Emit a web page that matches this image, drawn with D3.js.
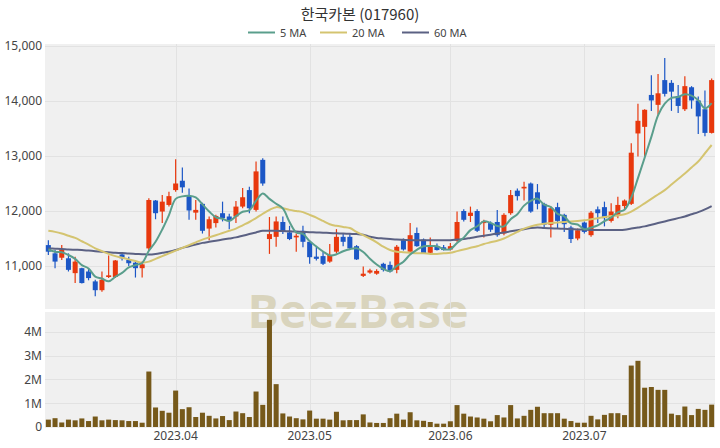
<!DOCTYPE html>
<html><head><meta charset="utf-8">
<script src="https://cdn.jsdelivr.net/npm/d3@7"></script>
<style>
body{margin:0;background:#fff;}
svg{display:block;}
text{font-family:"Noto Sans","Noto Sans CJK KR",sans-serif;}
</style>
</head><body>
<svg id="c" width="720" height="448"></svg>
<script>
const titleText = "한국카본 (017960)";
const monthTickIndex = [19, 39, 60, 80];
const monthTickLabels = ["2023.04", "2023.05", "2023.06", "2023.07"];
const priceTicks = [11000, 12000, 13000, 14000, 15000];
const volumeTicks = [0, 1e6, 2e6, 3e6, 4e6];
const volumeTickLabels = ["0", "1M", "2M", "3M", "4M"];
const legendNames = ["5 MA", "20 MA", "60 MA"];

const openP = [11380,11230,11150,11140,10870,10960,10900,10720,10560,10800,
  10800,11210,11110,11060,10960,11320,12190,11990,12110,12380,
  12550,12270,11970,12130,11680,11780,11960,11900,11900,12080,
  12380,12020,12930,11490,11530,11800,11610,11520,11640,11440,
  11170,11180,11080,11260,11530,11530,11360,10820,10880,10860,
  11040,11020,10930,11470,11260,11600,11480,11240,11360,11340,
  11300,11460,12000,11910,12000,11780,11780,11800,11590,11960,
  12370,12410,12500,12340,12130,11750,12070,11930,11700,11500,
  11790,11560,12030,12070,11820,11930,12090,12130,13410,13530,
  14110,13930,14380,14330,14090,13850,14250,14010,13850,13420];
const highP = [11470,11290,11380,11230,11170,10970,10960,10750,10900,11190,
  11110,11240,11170,11100,11080,12230,12200,12290,12350,12940,
  12790,12410,12200,12150,11900,11930,12170,11950,12180,12420,
  12440,12900,12960,11890,11900,11900,11730,11590,11730,11470,
  11360,11260,11400,11670,11600,11590,11380,10990,10950,10940,
  11060,11080,11380,11500,11780,11700,11500,11520,11410,11380,
  11420,11990,12030,12080,12030,11840,11810,12020,11960,12380,
  12410,12530,12520,12490,12150,12080,12150,11950,11730,11680,
  11810,12000,12080,12170,12140,12260,12210,13230,13950,13850,
  14470,14490,14780,14380,14290,14450,14270,14080,14190,14410];
const lowP = [11200,10960,11110,10900,10690,10680,10740,10450,10530,10780,
  10780,11100,11000,10790,10790,11290,11850,11780,12080,12350,
  12330,11840,11840,11590,11470,11700,11810,11670,11780,12050,
  11960,11990,12460,11220,11350,11580,11470,11260,11340,11040,
  11100,11020,11060,11230,11360,11290,11110,10800,10860,10840,
  10900,10880,10870,11280,11240,11350,11220,11230,11280,11280,
  11280,11440,11810,11800,11620,11520,11620,11530,11560,11930,
  12190,12190,11970,12030,11710,11520,11690,11620,11420,11470,
  11590,11530,11780,11720,11790,11870,12030,12110,12990,13000,
  13820,13750,14080,13820,13780,13820,13860,13400,13360,13410];
const closeP = [11260,11080,11300,10930,11080,10690,10780,10560,10750,10830,
  11100,11140,11050,10960,11030,12200,11960,12170,12270,12500,
  12430,12010,12020,11640,11850,11910,11870,11820,12080,12250,
  12050,12720,12500,11580,11810,11620,11490,11550,11440,11160,
  11130,11040,11200,11530,11440,11320,11120,10860,10920,10910,
  10930,10900,11350,11300,11560,11360,11230,11360,11290,11290,
  11360,11800,11840,11970,11640,11810,11660,11560,11930,12290,
  12270,12440,11990,12130,11750,12050,11820,11760,11490,11650,
  11620,11970,11960,11870,11990,12110,12190,13060,13640,13840,
  14010,14140,14130,14170,13910,14270,14010,13720,13420,14380];
const volume = [310000,370000,190000,310000,280000,360000,250000,440000,280000,310000,
  290000,280000,250000,250000,180000,2330000,820000,680000,600000,1530000,
  750000,830000,420000,600000,470000,360000,460000,290000,650000,580000,
  420000,1490000,930000,4500000,1800000,570000,440000,370000,320000,690000,
  350000,350000,310000,640000,280000,290000,290000,530000,190000,170000,
  170000,370000,560000,310000,620000,280000,260000,210000,140000,140000,
  240000,920000,560000,440000,400000,350000,240000,500000,400000,920000,
  360000,470000,720000,850000,580000,580000,580000,350000,250000,180000,
  180000,470000,320000,510000,580000,580000,500000,2580000,2780000,1650000,
  1680000,1560000,1560000,560000,500000,860000,500000,760000,720000,940000];
const ma5 = [11300,11260,11250,11200,11130,11016,10956,10808,10772,10722,
  10804,10876,10974,11016,11056,11276,11440,11664,11926,12220,
  12266,12276,12246,12120,11990,11886,11858,11818,11906,11986,
  12014,12184,12320,12220,12132,12046,11800,11610,11582,11452,
  11354,11264,11194,11212,11268,11306,11322,11254,11132,11026,
  10948,10904,11002,11078,11208,11294,11360,11362,11360,11306,
  11306,11420,11516,11652,11722,11812,11784,11728,11720,11850,
  11942,12098,12184,12224,12116,12072,11948,11902,11774,11754,
  11668,11698,11738,11814,11882,11980,12024,12244,12598,12968,
  13348,13738,13952,14058,14072,14124,14098,14016,13866,13960];
const ma20 = [11640,11620,11590,11550,11510,11450,11390,11320,11270,11220,
  11180,11150,11120,11090,11060,11080,11130,11180,11230,11280,
  11330,11380,11430,11480,11520,11560,11600,11640,11680,11740,
  11800,11870,11950,12020,12070,12050,12020,12000,11980,11930,
  11880,11820,11760,11730,11710,11690,11620,11560,11500,11430,
  11350,11290,11260,11250,11240,11230,11230,11220,11220,11230,
  11240,11270,11300,11330,11360,11400,11430,11460,11500,11560,
  11620,11680,11720,11750,11770,11780,11790,11800,11810,11820,
  11830,11850,11870,11890,11910,11920,11940,11990,12060,12140,
  12220,12300,12380,12480,12580,12680,12790,12900,13050,13200];
const ma60 = [11320,11315,11310,11300,11295,11290,11280,11270,11260,11250,
  11240,11235,11225,11220,11215,11210,11220,11240,11260,11290,
  11330,11360,11390,11420,11440,11460,11480,11500,11520,11550,
  11580,11610,11640,11640,11640,11635,11630,11625,11620,11615,
  11610,11605,11600,11595,11590,11585,11580,11570,11530,11510,
  11500,11490,11480,11475,11470,11470,11470,11470,11470,11470,
  11470,11480,11490,11510,11530,11550,11570,11590,11610,11630,
  11650,11670,11690,11700,11690,11685,11680,11675,11670,11665,
  11660,11655,11655,11655,11655,11655,11660,11680,11700,11720,
  11750,11780,11810,11840,11870,11900,11940,11980,12030,12090];

const colors = {up:"#e8380d", down:"#1c57c6", vol:"#76591a", ma5:"#5a9e8c", ma20:"#d4c470", ma60:"#5b6183",
  bg:"#f0f0f0", grid:"#e2e2e2", text:"#444", wm:"#d9d4bd"};

const svg = d3.select("#c");
const L = 45, R = 715;
const priceTop = 44, priceBot = 309, volTop = 312, volBot = 428;

const n = closeP.length;
const x = d3.scaleBand().domain(d3.range(n)).range([L, R]).padding(0);
const xc = i => x(i) + x.bandwidth() / 2;
const bw = x.bandwidth() * 0.75;

const y = d3.scaleLinear().domain([10218, 15000]).range([priceBot, 46]);
const yv = d3.scaleLinear().domain([0, 4.83e6]).range([427, volTop]);

// panels
svg.append("rect").attr("x", L).attr("y", priceTop).attr("width", R - L).attr("height", priceBot - priceTop).attr("fill", colors.bg);
svg.append("rect").attr("x", L).attr("y", volTop).attr("width", R - L).attr("height", volBot - volTop).attr("fill", colors.bg);

// watermark
svg.append("text").attr("x", 358).attr("y", 328).attr("text-anchor", "middle")
  .attr("font-size", 47).attr("font-weight", "bold").attr("fill", colors.wm)
  .style("font-family", "'Open Sans','Noto Sans',sans-serif").text("BeezBase");
svg.append("rect").attr("x", L).attr("y", priceBot).attr("width", R - L).attr("height", volTop - priceBot).attr("fill", "#fff");

// grids
const g = svg.append("g");
g.selectAll(".hp").data(priceTicks).join("line").attr("x1", L).attr("x2", R)
  .attr("y1", d => Math.round(y(d)) + 0.5).attr("y2", d => Math.round(y(d)) + 0.5).attr("stroke", colors.grid);
g.selectAll(".hv").data(volumeTicks.slice(1)).join("line").attr("x1", L).attr("x2", R)
  .attr("y1", d => Math.round(yv(d)) + 0.5).attr("y2", d => Math.round(yv(d)) + 0.5).attr("stroke", colors.grid);
monthTickIndex.forEach(i => {
  const xx = Math.round(xc(i)) + 0.5;
  g.append("line").attr("x1", xx).attr("x2", xx).attr("y1", priceTop).attr("y2", priceBot).attr("stroke", colors.grid);
  g.append("line").attr("x1", xx).attr("x2", xx).attr("y1", volTop).attr("y2", volBot).attr("stroke", colors.grid);
});

// axes
const ax = svg.append("g").attr("transform", `translate(${L - 3},0)`)
  .call(d3.axisLeft(y).tickValues(priceTicks).tickFormat(d3.format(",")).tickSize(0).tickPadding(0));
const axv = svg.append("g").attr("transform", `translate(${L - 3},0)`)
  .call(d3.axisLeft(yv).tickValues(volumeTicks).tickFormat((d, i) => volumeTickLabels[i]).tickSize(0).tickPadding(0));
const axx = svg.append("g").attr("transform", `translate(0,${volBot})`)
  .call(d3.axisBottom(x).tickValues(monthTickIndex).tickFormat((d, i) => monthTickLabels[i]).tickSize(0).tickPadding(3));
[ax, axv, axx].forEach(a => {
  a.select(".domain").remove();
  a.selectAll("text").attr("fill", colors.text).attr("font-size", 12)
    .style("font-family", "'Noto Sans',sans-serif");
});

// volume bars
svg.append("g").selectAll("rect").data(volume).join("rect")
  .attr("x", (d, i) => xc(i) - bw / 2).attr("width", bw)
  .attr("y", d => yv(d)).attr("height", d => yv(0) - yv(d)).attr("fill", colors.vol);

// candles
const cg = svg.append("g");
d3.range(n).forEach(i => {
  const up = closeP[i] >= openP[i];
  const col = up ? colors.up : colors.down;
  cg.append("line").attr("x1", xc(i)).attr("x2", xc(i)).attr("y1", y(highP[i])).attr("y2", y(lowP[i]))
    .attr("stroke", col).attr("stroke-width", 1.2);
  const t = y(Math.max(openP[i], closeP[i])), b = y(Math.min(openP[i], closeP[i]));
  cg.append("rect").attr("x", xc(i) - bw / 2).attr("width", bw).attr("y", t).attr("height", Math.max(1.5, b - t)).attr("fill", col);
});

// MA lines
const line = d3.line().x((d, i) => xc(i)).y(d => y(d)).curve(d3.curveCatmullRom.alpha(0.5));
[[ma60, colors.ma60], [ma20, colors.ma20], [ma5, colors.ma5]].forEach(([arr, col]) => {
  svg.append("path").attr("d", line(arr)).attr("fill", "none").attr("stroke", col).attr("stroke-width", 2);
});

// title
svg.append("text").attr("x", 360).attr("y", 20).attr("text-anchor", "middle").attr("font-size", 15)
  .attr("fill", "#333").style("font-family", "'Noto Sans CJK KR','Noto Sans',sans-serif").text(titleText);

// legend
const legendX = [248, 320, 402];
const legendCols = [colors.ma5, colors.ma20, colors.ma60];
legendNames.forEach((nm, i) => {
  svg.append("line").attr("x1", legendX[i]).attr("x2", legendX[i] + 27).attr("y1", 32.5).attr("y2", 32.5)
    .attr("stroke", legendCols[i]).attr("stroke-width", 2);
  svg.append("text").attr("x", legendX[i] + 32).attr("y", 36.5).attr("font-size", 11).attr("fill", colors.text).text(nm);
});
</script>
</body></html>
